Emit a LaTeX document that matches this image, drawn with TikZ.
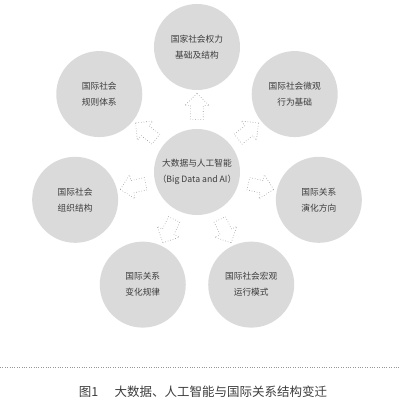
\documentclass[tikz,border=0pt]{standalone}
\usepackage{fontspec}
\usepackage{tikz}
\usepackage{xcolor}
\usetikzlibrary{shapes.arrows,calc}
\newfontfamily\cjk{Noto Sans CJK SC}
\definecolor{discgray}{RGB}{218,218,218}
\definecolor{inkgray}{RGB}{60,60,60}
\definecolor{dotgray}{RGB}{150,150,150}
\tikzstyle{topic} = [circle, fill=discgray, minimum size=86pt, inner sep=0pt, align=center, text=inkgray, font=\cjk\fontsize{8.7pt}{16pt}\selectfont]
\tikzstyle{blockarrow} = [single arrow, draw=dotgray, dotted, fill=white, minimum height=26pt, inner sep=6pt, single arrow head extend=6pt, single arrow head indent=0pt]

\begin{document}
\begin{tikzpicture}[semithick]
  \useasboundingbox (-197pt,172pt) rectangle (203pt,-230pt);
  \node[topic] (hub) at (0,0) {大数据与人工智能\\（Big Data and AI）};
  \node[topic] (power) at (90:125pt) {国家社会权力\\基础及结构};
  \node[topic] (micro) at (38.57:125pt) {国际社会微观\\行为基础};
  \node[topic] (evolve) at (-12.86:125pt) {国际关系\\演化方向};
  \node[topic] (macro) at (-64.29:125pt) {国际社会宏观\\运行模式};
  \node[topic] (change) at (-115.71:125pt) {国际关系\\变化规律};
  \node[topic] (organize) at (-167.14:125pt) {国际社会\\组织结构};
  \node[topic] (rules) at (141.43:125pt) {国际社会\\规则体系};

  % arrows from the hub outwards
  \node[blockarrow, rotate=90] (arPower) at ($(hub)!0.5!(power)$) {};
  \node[blockarrow, rotate=38.57] (arMicro) at ($(hub)!0.5!(micro)$) {};
  \node[blockarrow, rotate=-12.86] (arEvolve) at ($(hub)!0.5!(evolve)$) {};
  \node[blockarrow, rotate=-64.29] (arMacro) at ($(hub)!0.5!(macro)$) {};
  \node[blockarrow, rotate=-115.71] (arChange) at ($(hub)!0.5!(change)$) {};
  \node[blockarrow, rotate=-167.14] (arOrganize) at ($(hub)!0.5!(organize)$) {};
  \node[blockarrow, rotate=141.43] (arRules) at ($(hub)!0.5!(rules)$) {};

  % rule and caption
  \coordinate (ruleL) at (-197pt,-195pt);
  \coordinate (ruleR) at (203pt,-195pt);
  \draw[dotgray, thin, dotted] (ruleL) -- (ruleR);
  \node[text=inkgray, font=\cjk\fontsize{12.5pt}{15pt}\selectfont] (caption) at (6pt,-220pt) {图1\hspace{1.3em}大数据、人工智能与国际关系结构变迁};
\end{tikzpicture}
\end{document}
